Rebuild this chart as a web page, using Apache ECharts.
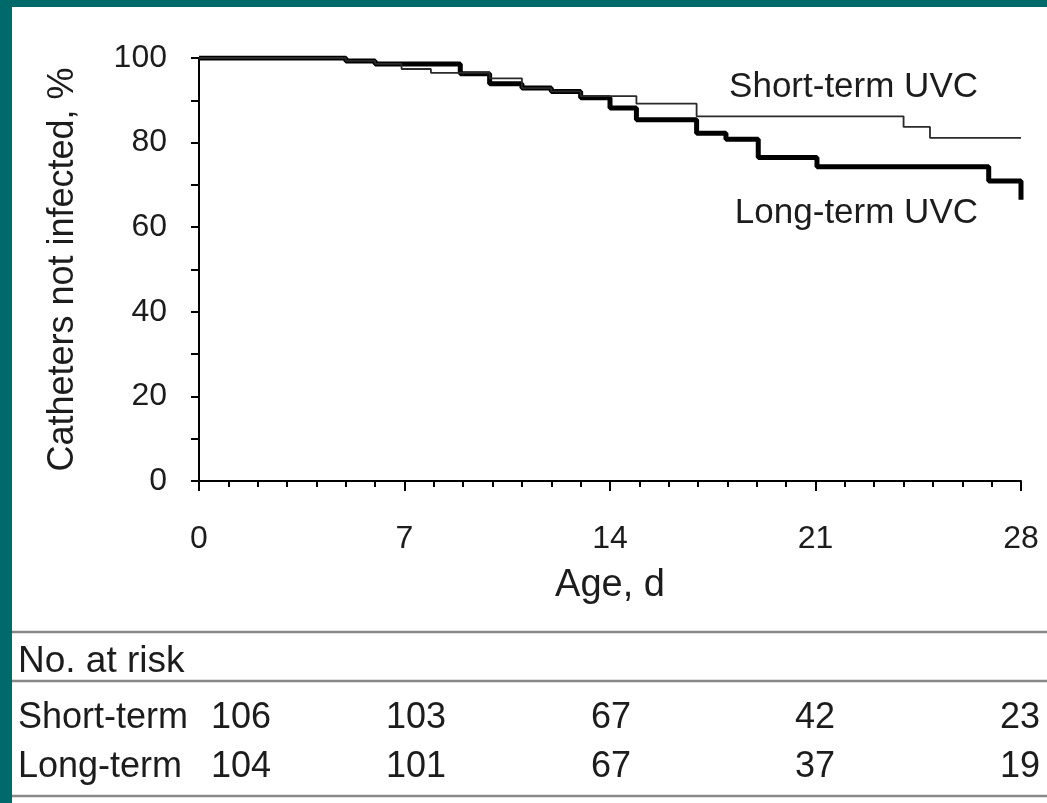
<!DOCTYPE html>
<html><head><meta charset="utf-8">
<script src="https://cdn.jsdelivr.net/npm/echarts@6/dist/echarts.min.js"></script>
<style>html,body{margin:0;padding:0;background:#fff}#c{width:1047px;height:803px}</style>
</head><body><div id="c"></div>
<script>
// ---- data ----
const xTicks = [0, 7, 14, 21, 28];
const yTicks = [0, 20, 40, 60, 80, 100];
const shortTerm = [[0,100],[5,99.3],[6,98.6],[6.9,97.4],[7.9,96.5],[9.9,95.2],[11,92.9],[12,92.1],[13,91.0],[14.9,89.2],[16.95,86.2],[24,83.7],[24.9,81.1],[28,81.1]];
const longTerm = [[0,100],[5,99.3],[6,98.6],[8.9,96.3],[9.9,93.9],[11,92.9],[12,92.1],[13,90.6],[14,88.2],[14.9,85.4],[16.95,82.2],[17.95,80.8],[19.05,76.5],[21.05,74.3],[26.9,70.9],[28,66.5]];
const seriesNames = ['Short-term UVC', 'Long-term UVC'];
const riskTitle = 'No. at risk';
const riskGroups = ['Short-term', 'Long-term'];
const riskShort = [106, 103, 67, 42, 23];
const riskLong = [104, 101, 67, 37, 19];

// ---- layout ----
const FONT = '"Liberation Sans", Arial, Helvetica, sans-serif';
const TXT = '#1c1c1c';
const riskCols = [241, 416, 611, 815, 1020];
const riskRowsY = [718, 767];

const chart = echarts.init(document.getElementById('c'), null, {renderer: 'canvas'});

const graphics = [];
graphics.push({type:'rect', z:100, shape:{x:0,y:0,width:1047,height:7}, style:{fill:'#006a6a'}});
graphics.push({type:'rect', z:100, shape:{x:0,y:0,width:12,height:803}, style:{fill:'#006a6a'}});
[632, 681, 796].forEach(y => graphics.push({type:'line', shape:{x1:12,y1:y,x2:1047,y2:y}, style:{stroke:'#888888', lineWidth:2.5}}));
graphics.push({type:'text', style:{text: riskTitle, x:18, y:662, font:'37px ' + FONT, fill:TXT, align:'left', verticalAlign:'middle'}});
[riskShort, riskLong].forEach((row, r) => {
  graphics.push({type:'text', style:{text: riskGroups[r], x:18, y:riskRowsY[r], font:'36px ' + FONT, fill:TXT, align:'left', verticalAlign:'middle'}});
  row.forEach((v, i) => graphics.push({type:'text', style:{text: String(v), x:riskCols[i], y:riskRowsY[r], font:'36px ' + FONT, fill:TXT, align:'center', verticalAlign:'middle'}}));
});
graphics.push({type:'text', style:{text: seriesNames[0], x:978, y:87, font:'35px ' + FONT, fill:TXT, align:'right', verticalAlign:'middle'}});
graphics.push({type:'text', style:{text: seriesNames[1], x:978, y:213, font:'35px ' + FONT, fill:TXT, align:'right', verticalAlign:'middle'}});

chart.setOption({
  backgroundColor: '#ffffff',
  animation: false,
  textStyle: {fontFamily: FONT},
  grid: {left: 199, right: 26, top: 58, bottom: 322, containLabel: false},
  xAxis: {
    type: 'value', min: 0, max: 28, interval: 7,
    name: 'Age, d', nameLocation: 'middle', nameGap: 86,
    nameTextStyle: {fontSize: 38, color: TXT, fontFamily: FONT},
    axisLine: {show: true, lineStyle: {color: '#000', width: 2}},
    axisTick: {show: true, length: 10, lineStyle: {color: '#000', width: 2}},
    minorTick: {show: true, splitNumber: 7, length: 6, lineStyle: {color: '#000', width: 2}},
    axisLabel: {fontSize: 32, color: TXT, margin: 42, fontFamily: FONT,
      customValues: xTicks},
    splitLine: {show: false}
  },
  yAxis: {
    type: 'value', min: 0, max: 100, interval: 20,
    name: 'Catheters not infected, %', nameLocation: 'middle', nameGap: 118,
    nameTextStyle: {fontSize: 36, color: TXT, fontFamily: FONT},
    axisLine: {show: true, lineStyle: {color: '#000', width: 2}},
    axisTick: {show: true, length: 8, lineStyle: {color: '#000', width: 2}},
    minorTick: {show: true, splitNumber: 2, length: 8, lineStyle: {color: '#000', width: 2}},
    axisLabel: {fontSize: 32, color: TXT, margin: 32, fontFamily: FONT},
    splitLine: {show: false}
  },
  series: [
    {name: seriesNames[1], type: 'line', step: 'end', symbol: 'none', data: longTerm,
     lineStyle: {color: '#000', width: 5}, z: 2},
    {name: seriesNames[0], type: 'line', step: 'end', symbol: 'none', data: shortTerm,
     lineStyle: {color: '#2a2a2a', width: 1.8}, z: 3}
  ],
  graphic: graphics
});
</script>
</body></html>
